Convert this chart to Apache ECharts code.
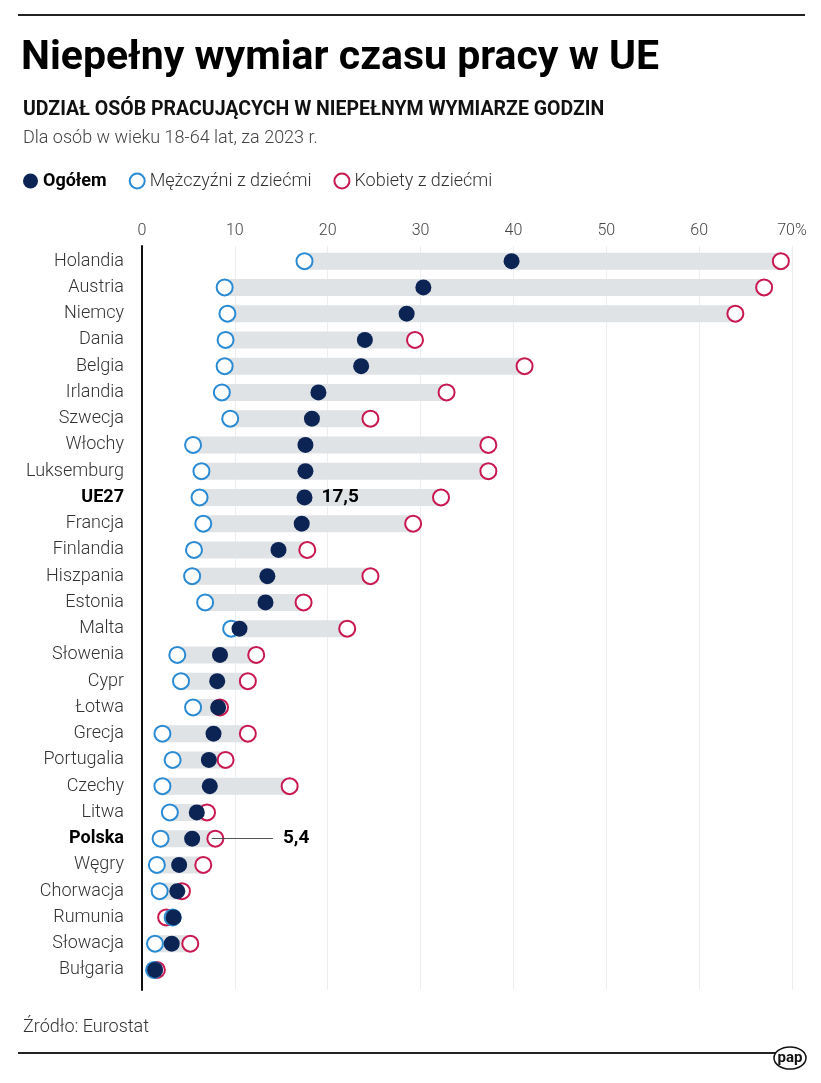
<!DOCTYPE html>
<html><head><meta charset="utf-8">
<script src="https://cdn.jsdelivr.net/npm/echarts@6/dist/echarts.min.js"></script>
<style>html,body{margin:0;padding:0;background:#fff}#c{width:821px;height:1083px}</style>
</head><body><div id="c"></div>
<script>
const categories = ['Holandia','Austria','Niemcy','Dania','Belgia','Irlandia','Szwecja','Włochy','Luksemburg','UE27','Francja','Finlandia','Hiszpania','Estonia','Malta','Słowenia','Cypr','Łotwa','Grecja','Portugalia','Czechy','Litwa','Polska','Węgry','Chorwacja','Rumunia','Słowacja','Bułgaria'];
const ogolem = [39.8,30.3,28.5,24.0,23.6,19.0,18.3,17.6,17.6,17.5,17.2,14.7,13.5,13.3,10.5,8.4,8.1,8.2,7.7,7.2,7.3,5.9,5.4,4.0,3.8,3.4,3.2,1.4];
const mezczyzni = [17.5,8.9,9.2,9.0,8.9,8.6,9.5,5.5,6.4,6.2,6.6,5.6,5.4,6.8,9.6,3.8,4.2,5.5,2.2,3.3,2.2,3.0,2.0,1.6,1.9,3.3,1.4,1.3];
const kobiety = [68.8,67.0,63.9,29.4,41.2,32.8,24.6,37.3,37.3,32.2,29.2,17.8,24.6,17.4,22.1,12.3,11.4,8.4,11.4,9.0,15.9,7.0,7.9,6.6,4.3,2.6,5.2,1.6];
const xTicks = [0,10,20,30,40,50,60,70];
const boldCats = ['UE27','Polska'];

const FONT = 'Roboto, "Noto Sans", sans-serif';
const NAVY = '#0c2454', BLUE = '#2a8ad3', RED = '#c8184f', BAND = '#dfe3e6';

const bandStart = categories.map((c,i)=>Math.min(ogolem[i],mezczyzni[i],kobiety[i]));
const bandLen = categories.map((c,i)=>Math.max(ogolem[i],mezczyzni[i],kobiety[i]) - bandStart[i]);

const chart = echarts.init(document.getElementById('c'), null, {renderer:'canvas'});
const gridL = 142, gridR = 29;
chart.setOption({
  animation:false,
  textStyle:{fontFamily:FONT},
  title:[
    {text:'Niepełny wymiar czasu pracy w UE', left:16, top:33, textStyle:{fontFamily:FONT,fontSize:41,fontWeight:'bold',color:'#000'}},
    {text:'UDZIAŁ OSÓB PRACUJĄCYCH W NIEPEŁNYM WYMIARZE GODZIN', left:18, top:95, textStyle:{fontFamily:FONT,fontSize:19.5,fontWeight:'bold',color:'#111'}},
    {text:'Dla osób w wieku 18-64 lat, za 2023 r.', left:18, top:124, textStyle:{fontFamily:FONT,fontSize:18,fontWeight:300,color:'#444'}},
    {text:'Źródło: Eurostat', left:18, top:1013, textStyle:{fontFamily:FONT,fontSize:18,fontWeight:300,color:'#333'}}
  ],
  legend:{
    left:18, top:167, itemWidth:15, itemHeight:15, itemGap:22, icon:'circle',
    data:['Ogółem','Mężczyźni z dziećmi','Kobiety z dziećmi'],
    formatter: n => n==='Ogółem' ? '{b|'+n+'}' : n,
    textStyle:{fontFamily:FONT,fontSize:18,fontWeight:300,color:'#333',
      rich:{b:{fontFamily:FONT,fontSize:18,fontWeight:'bold',color:'#000'}}}
  },
  grid:[
    {left:gridL, right:gridR, top:248, height:735},
    {left:gridL, right:gridR, top:246, height:744}
  ],
  xAxis:[
    {gridIndex:0, type:'value', min:0, max:70, interval:10, show:false},
    {gridIndex:1, type:'value', min:0, max:70, interval:10, position:'top',
      axisLine:{show:false}, axisTick:{show:false},
      axisLabel:{margin:7, fontFamily:FONT, fontSize:16, fontWeight:300, color:'#444', formatter:v=> v===70?'70%':String(v)},
      splitLine:{show:true, lineStyle:{color:'#eceef0', width:1}}}
  ],
  yAxis:[
    {gridIndex:0, type:'category', data:categories, inverse:true,
      axisLine:{show:false}, axisTick:{show:false}, splitLine:{show:false},
      axisLabel:{margin:18, fontFamily:FONT, fontSize:18, fontWeight:300, color:'#333',
        formatter:v=> boldCats.includes(v) ? '{b|'+v+'}' : v,
        rich:{b:{fontFamily:FONT,fontSize:18,fontWeight:'bold',color:'#000'}}}},
    {gridIndex:1, type:'value', min:0, max:1, axisLine:{show:true, onZero:false, lineStyle:{color:'#111', width:2}},
      axisTick:{show:false}, axisLabel:{show:false}, splitLine:{show:false}}
  ],
  series:[
    {type:'bar', stack:'band', xAxisIndex:0, yAxisIndex:0, data:bandStart, barWidth:17,
      itemStyle:{color:'transparent'}, silent:true, z:1},
    {type:'bar', stack:'band', xAxisIndex:0, yAxisIndex:0, data:bandLen, barWidth:17,
      itemStyle:{color:BAND}, silent:true, z:1},
    {name:'Kobiety z dziećmi', type:'scatter', xAxisIndex:0, yAxisIndex:0, symbol:'circle', symbolSize:16,
      data:kobiety.map((v,i)=>[v,categories[i]]),
      itemStyle:{color:'#fff', borderColor:RED, borderWidth:2, opacity:1}, z:3,
      markLine:{silent:true, symbol:'none', z:10,
        lineStyle:{color:'#555', width:1, type:'solid'},
        label:{show:true, position:'end', distance:10, formatter:'5,4', fontFamily:FONT, fontSize:19, fontWeight:'bold', color:'#000'},
        data:[[{coord:[7.5,'Polska']},{coord:[14.1,'Polska']}]]}},
    {name:'Mężczyźni z dziećmi', type:'scatter', xAxisIndex:0, yAxisIndex:0, symbol:'circle', symbolSize:16,
      data:mezczyzni.map((v,i)=>[v,categories[i]]),
      itemStyle:{color:'#fff', borderColor:BLUE, borderWidth:2, opacity:1}, z:4},
    {name:'Ogółem', type:'scatter', xAxisIndex:0, yAxisIndex:0, symbol:'circle', symbolSize:16,
      data:ogolem.map((v,i)=>({value:[v,categories[i]],
        label: categories[i]==='UE27' ? {show:true, position:'right', distance:9, formatter:'17,5', fontFamily:FONT, fontSize:19, fontWeight:'bold', color:'#000'} : {show:false}})),
      itemStyle:{color:NAVY, opacity:1}, z:5}
  ],
  graphic:[
    {type:'rect', shape:{x:18, y:14, width:787, height:2}, style:{fill:'#222'}},
    {type:'rect', shape:{x:18, y:1052, width:787, height:2}, style:{fill:'#222'}},
    {type:'ellipse', shape:{cx:790, cy:1058, rx:16, ry:11}, style:{fill:'#fff', stroke:'#111', lineWidth:1.5}},
    {type:'text', x:790, y:1058, style:{text:'pap', fontFamily:FONT, fontSize:15, fontWeight:'bold', fill:'#111', align:'center', verticalAlign:'middle'}}
  ]
});
</script></body></html>
